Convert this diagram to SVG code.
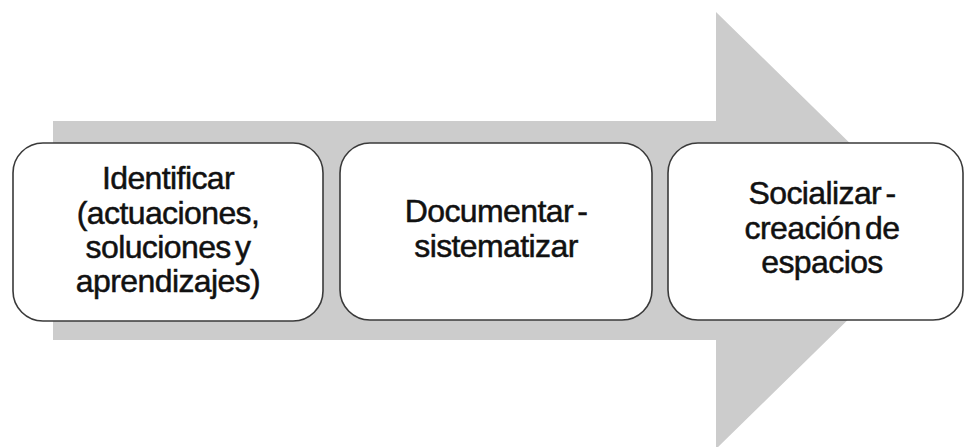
<svg xmlns="http://www.w3.org/2000/svg" width="965" height="447" viewBox="0 0 965 447">
  <style>
    .step { fill: #ffffff; stroke: #3a3a3a; stroke-width: 1.6; }
    .label { font-family: "Liberation Sans", Arial, sans-serif; font-size: 32px; letter-spacing: -0.6px; word-spacing: -4px; fill: #111111; stroke: #111111; stroke-width: 0.5; text-anchor: middle; }
  </style>
  <rect width="965" height="447" fill="#ffffff"/>
  <!-- Background process arrow -->
  <g id="process-arrow">
    <polygon points="53,121 716,121 716,12 939,230.5 716,449 716,340 53,340" fill="#cccccc"/>
  </g>
  <g id="connectors"></g>
  <g id="step-identificar">
    <rect class="step" x="13" y="143" width="310" height="178" rx="30" ry="30"/>
    <text class="label" x="168" y="189">Identificar</text>
    <text class="label" x="168" y="224">(actuaciones,</text>
    <text class="label" x="168" y="258">soluciones y</text>
    <text class="label" x="168" y="292">aprendizajes)</text>
  </g>
  <g id="step-documentar">
    <rect class="step" x="340" y="143" width="312" height="177" rx="30" ry="30"/>
    <text class="label" x="496" y="222">Documentar -</text>
    <text class="label" x="496" y="257">sistematizar</text>
  </g>
  <g id="step-socializar">
    <rect class="step" x="668" y="143" width="295" height="177" rx="30" ry="30"/>
    <text class="label" x="822" y="204">Socializar -</text>
    <text class="label" x="822" y="239">creación de</text>
    <text class="label" x="822" y="273">espacios</text>
  </g>
</svg>
